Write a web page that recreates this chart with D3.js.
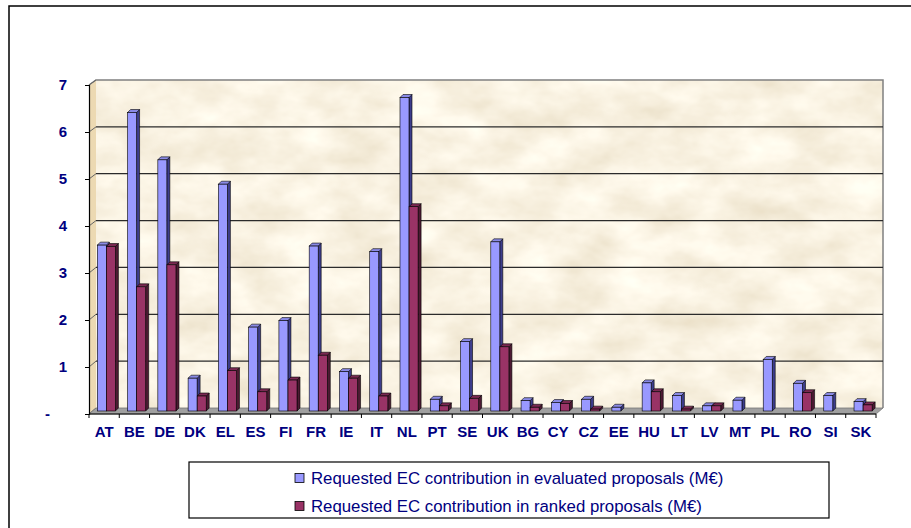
<!DOCTYPE html>
<html>
<head>
  <meta charset="utf-8">
  <title>Requested EC contribution per country</title>
  <script src="https://cdn.jsdelivr.net/npm/d3@7"></script>
  <style>
    body { margin: 0; background: #fff; }
    svg { display: block; font-family: Arial, "Liberation Sans", sans-serif; }
  </style>
</head>
<body>
<script>
  // data (M€)
  const countries = ["AT", "BE", "DE", "DK", "EL", "ES", "FI", "FR", "IE", "IT", "NL", "PT", "SE",
    "UK", "BG", "CY", "CZ", "EE", "HU", "LT", "LV", "MT", "PL", "RO", "SI", "SK"];
  const evaluated = [3.54, 6.37, 5.36, 0.70, 4.84, 1.79, 1.93, 3.52, 0.84, 3.40, 6.69, 0.25, 1.48,
    3.61, 0.22, 0.18, 0.25, 0.08, 0.60, 0.33, 0.11, 0.23, 1.10, 0.59, 0.33, 0.20];
  const ranked = [3.51, 2.65, 3.12, 0.32, 0.86, 0.41, 0.66, 1.19, 0.70, 0.32, 4.36, 0.11, 0.27,
    1.37, 0.08, 0.16, 0.04, 0, 0.41, 0.04, 0.11, 0, 0, 0.39, 0, 0.13];
  const yTicks = [0, 1, 2, 3, 4, 5, 6, 7];
  const seriesNames = ["Requested EC contribution in evaluated proposals (M\u20ac)",
    "Requested EC contribution in ranked proposals (M\u20ac)"];

  const w = 911, h = 528;
  const depth = 3;          // 3d offset of the bars
  const wall = { dx: 7, dy: 6 };   // offset front axis -> back wall
  const navy = "#000080";

  const colors = [
    { front: "#9999ff", top: "#8a8ae6", side: "#3d3d8c" },
    { front: "#993366", top: "#7a2952", side: "#4d1a33" }
  ];

  const x = d3.scaleBand().domain(countries).range([89, 876]);
  const y = d3.scaleLinear().domain([0, 7]).range([411, 83]);      // bars
  const yFront = d3.scaleLinear().domain([0, 7]).range([414, 85]); // front axis
  const yBack = d3.scaleLinear().domain([0, 7]).range([408, 80]);  // back wall

  const svg = d3.select("body").append("svg")
    .attr("width", w)
    .attr("height", h);

  // parchment texture
  const defs = svg.append("defs");
  const f = defs.append("filter").attr("id", "paper")
    .attr("x", 0).attr("y", 0).attr("width", 1).attr("height", 1);
  f.append("feTurbulence").attr("type", "fractalNoise")
    .attr("baseFrequency", "0.018 0.03").attr("numOctaves", 4).attr("seed", 7);
  f.append("feColorMatrix").attr("type", "matrix")
    .attr("values", "0.28 0 0 0 0.81  0.34 0 0 0 0.72  0.42 0 0 0 0.55  0 0 0 0 1");
  f.append("feComposite").attr("in2", "SourceGraphic").attr("operator", "in");

  // chart frame (only top and left edges are visible)
  svg.append("path")
    .attr("d", "M9,528 V6 H911")
    .attr("fill", "none")
    .attr("stroke", "#000")
    .attr("stroke-width", 1.5);

  const x0 = x.range()[0], x1 = x.range()[1];

  // side wall
  svg.append("path")
    .attr("d", `M${x0},${yFront(7)} L${x0 + wall.dx},${yBack(7)} V${yBack(0)} L${x0},${yFront(0)} Z`)
    .attr("fill", "#ecd9b2");

  // back wall
  svg.append("rect")
    .attr("x", x0 + wall.dx)
    .attr("y", yBack(7))
    .attr("width", x1 - x0)
    .attr("height", yBack(0) - yBack(7))
    .attr("fill", "#f1e1bd")
    .attr("filter", "url(#paper)");

  svg.append("path")
    .attr("d", `M${x0},${yFront(7)} L${x0 + wall.dx},${yBack(7)} H${x1 + wall.dx} V${yBack(0)}`)
    .attr("fill", "none")
    .attr("stroke", "#808080")
    .attr("stroke-width", 1.5);

  // gridlines on the back wall + connectors to the front axis
  const grid = svg.append("g");
  grid.selectAll("line.g")
    .data(yTicks.filter(d => d > 0 && d < 7))
    .join("line")
    .attr("class", "g")
    .attr("x1", x0 + wall.dx).attr("x2", x1 + wall.dx)
    .attr("y1", d => yBack(d)).attr("y2", d => yBack(d))
    .attr("stroke", "#2b2b2b")
    .attr("stroke-width", 1.3);
  grid.selectAll("line.c")
    .data(yTicks)
    .join("line")
    .attr("class", "c")
    .attr("x1", x0).attr("x2", x0 + wall.dx)
    .attr("y1", d => yFront(d)).attr("y2", d => yBack(d))
    .attr("stroke", "#666");

  // floor
  svg.append("path")
    .attr("d", `M${x0},${yFront(0)} L${x0 + wall.dx},${yBack(0)} H${x1 + wall.dx} L${x1},${yFront(0)} Z`)
    .attr("fill", "#a0a0a0")
    .attr("stroke", "#777")
    .attr("stroke-width", 0.8);

  // bars
  const barW = 9;
  const offs = [8.3, 17.4];
  const series = [evaluated, ranked];
  series.forEach((vals, s) => {
    const g = svg.append("g");
    const c = colors[s];
    const items = countries.map((k, i) => ({ k: k, v: vals[i] })).filter(d => d.v > 0);
    const bx = d => x(d.k) + offs[s];
    g.selectAll("path.side")
      .data(items)
      .join("path")
      .attr("d", d => `M${bx(d) + barW},${y(d.v)} l${depth},${-depth} V${y(0) - depth} l${-depth},${depth} Z`)
      .attr("fill", c.side)
      .attr("stroke", "#000")
      .attr("stroke-width", 0.6);
    g.selectAll("path.top")
      .data(items)
      .join("path")
      .attr("d", d => `M${bx(d)},${y(d.v)} l${depth},${-depth} h${barW} l${-depth},${depth} Z`)
      .attr("fill", c.top)
      .attr("stroke", "#000")
      .attr("stroke-width", 0.6);
    g.selectAll("rect")
      .data(items)
      .join("rect")
      .attr("x", bx)
      .attr("y", d => y(d.v))
      .attr("width", barW)
      .attr("height", d => y(0) - y(d.v))
      .attr("fill", c.front)
      .attr("stroke", "#000")
      .attr("stroke-width", 0.6);
  });

  // y axis
  const yAxis = svg.append("g")
    .attr("transform", `translate(${x0},0)`)
    .call(d3.axisLeft(yFront).tickValues(yTicks).tickSize(4).tickPadding(18)
      .tickFormat(d => d === 0 ? "-" : d));
  yAxis.select(".domain").attr("stroke", "#000").attr("stroke-width", 1.2);
  yAxis.selectAll("text")
    .attr("fill", navy)
    .attr("font-size", 15)
    .attr("font-weight", "bold")
    .attr("font-family", "Arial, 'Liberation Sans', sans-serif")
    .attr("dx", d => d === 0 ? -17 : 0);

  // x axis: labels centred, ticks at band edges
  const xAxis = svg.append("g")
    .attr("transform", `translate(0,${yFront(0)})`)
    .call(d3.axisBottom(x).tickSize(0).tickPadding(12));
  xAxis.select(".domain").remove();
  xAxis.selectAll("text")
    .attr("fill", navy)
    .attr("font-size", 15)
    .attr("font-weight", "bold")
    .attr("font-family", "Arial, 'Liberation Sans', sans-serif");
  svg.append("line")
    .attr("x1", x0).attr("x2", x1)
    .attr("y1", yFront(0)).attr("y2", yFront(0))
    .attr("stroke", "#000").attr("stroke-width", 1.2);
  svg.selectAll("line.xt")
    .data(countries.map(k => x(k)).concat([x1]))
    .join("line")
    .attr("class", "xt")
    .attr("x1", d => d).attr("x2", d => d)
    .attr("y1", yFront(0)).attr("y2", yFront(0) + 4)
    .attr("stroke", "#000");

  // legend
  const lg = svg.append("g");
  lg.append("rect")
    .attr("x", 189).attr("y", 462)
    .attr("width", 640).attr("height", 56)
    .attr("fill", "#fff")
    .attr("stroke", "#000")
    .attr("stroke-width", 1.2);
  const rowsY = [478, 506];
  seriesNames.forEach((name, i) => {
    lg.append("rect")
      .attr("x", 295).attr("y", rowsY[i] - 4.5)
      .attr("width", 9).attr("height", 9)
      .attr("fill", colors[i].front)
      .attr("stroke", "#000")
      .attr("stroke-width", 0.8);
    lg.append("text")
      .attr("x", 311).attr("y", rowsY[i] + 5.5)
      .attr("fill", navy)
      .attr("font-size", 16.8)
      .text(name);
  });
</script>
</body>
</html>
